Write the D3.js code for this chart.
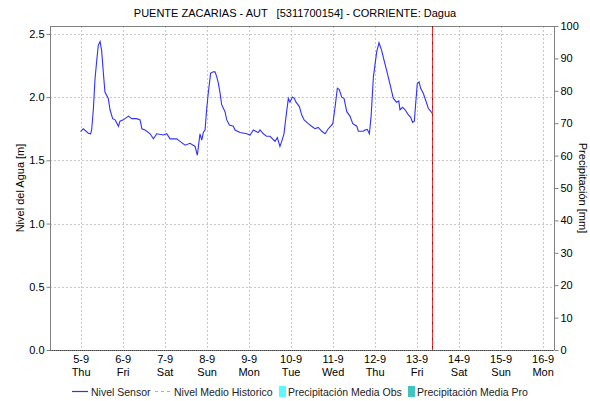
<!DOCTYPE html>
<html><head><meta charset="utf-8">
<script src="https://cdn.jsdelivr.net/npm/d3@7"></script>
<style>
body{margin:0;background:#fff;}
text{font-family:"Liberation Sans",Arial,sans-serif;font-size:11px;fill:#000;}
</style></head>
<body><svg id="c" width="590" height="401"></svg>
<script>
// Data (hours since 2019-09-05 00:00, water level in m)
const hours = [0,1.5,4.4,5.7,6.3,7.3,8.2,9.2,10.1,11.1,12,13,13.9,15.8,16.8,18.3,19.7,21.6,22.5,24.4,27.3,29.2,32,34,35,36.8,39.7,41.6,43.5,47.3,49.2,51.1,54.9,56.8,59.7,62.5,65.4,66.7,68.2,69.2,70.1,71.1,72,73,74.3,75.8,76.8,77.8,78.7,79.7,80.6,82.5,83.5,85,87.3,88.2,91.1,94.9,96.8,98.7,101.5,102.5,104.4,106.3,108.2,111.1,112.4,113.9,114.9,116.2,117.4,118.7,119.6,121,122.1,123.1,125,126.3,127.7,130.1,132,133.9,135.8,137.8,139.7,141.5,142.9,144.1,145.4,146.7,147.8,149.2,150.5,152.1,153.9,155.5,157.8,158.7,161.5,162.5,163.8,165,166,167.3,169.2,170.5,172,173.4,174.9,176.8,178.7,180.6,181.8,182.5,184,185.4,187.3,188.6,189.7,190.7,191.3,192.4,193.4,194.3,195.8,197.4,198.7,200,201];
const nivel = [1.727,1.75,1.714,1.71,1.74,1.91,2.14,2.29,2.41,2.44,2.37,2.19,2.04,1.99,1.90,1.83,1.82,1.77,1.81,1.82,1.85,1.83,1.83,1.82,1.75,1.74,1.71,1.67,1.71,1.70,1.71,1.67,1.67,1.65,1.62,1.635,1.61,1.54,1.71,1.66,1.72,1.74,1.90,2.04,2.19,2.20,2.20,2.16,2.11,2.03,1.94,1.885,1.82,1.78,1.77,1.74,1.72,1.71,1.70,1.74,1.72,1.74,1.71,1.69,1.69,1.65,1.68,1.61,1.65,1.71,1.85,1.99,1.96,2.00,1.99,1.96,1.925,1.86,1.82,1.79,1.77,1.75,1.76,1.73,1.71,1.75,1.77,1.79,1.92,2.07,2.06,2.00,1.99,1.885,1.85,1.79,1.77,1.73,1.73,1.74,1.745,1.71,1.85,2.16,2.36,2.43,2.37,2.29,2.21,2.10,1.99,1.96,1.97,1.90,1.92,1.90,1.86,1.84,1.80,1.81,1.92,2.11,2.12,2.07,2.03,1.965,1.91,1.89,1.87];
const dayLabels = ["5-9","6-9","7-9","8-9","9-9","10-9","11-9","12-9","13-9","14-9","15-9","16-9"];
const dayNames = ["Thu","Fri","Sat","Sun","Mon","Tue","Wed","Thu","Fri","Sat","Sun","Mon"];
const levelTicks = [0,0.5,1.0,1.5,2.0,2.5];
const precipTicks = [0,10,20,30,40,50,60,70,80,90,100];
const nowHour = 201; // 13-9 09:00
const title = "PUENTE ZACARIAS - AUT   [5311700154] - CORRIENTE: Dagua";
const legendItems = [
  {label:"Nivel Sensor", type:"line", color:"#3030ff"},
  {label:"Nivel Medio Historico", type:"dash", color:"#b0b0b0"},
  {label:"Precipitación Media Obs", type:"box", color:"#5cf8ff"},
  {label:"Precipitación Media Pro", type:"box", color:"#40c4c0"}
];

const svg = d3.select("#c");
const L=50,R=554,T=26,B=350;
const x = d3.scaleLinear().domain([-17.5,270.5]).range([L,R]);
const y = d3.scaleLinear().domain([0,2.5625]).range([B,T]);
const y2 = d3.scaleLinear().domain([0,100]).range([B,T]);

// gridlines
const dayHours = dayLabels.map((d,i)=>i*24);
svg.append("g").selectAll("line").data(dayHours).join("line")
  .attr("x1",d=>Math.round(x(d))+0.5).attr("x2",d=>Math.round(x(d))+0.5)
  .attr("y1",T).attr("y2",B).attr("stroke","#c8c8c8").attr("stroke-dasharray","2,2");
svg.append("g").selectAll("line").data(levelTicks.filter(d=>d>0)).join("line")
  .attr("x1",L).attr("x2",R).attr("y1",d=>Math.round(y(d))+0.5).attr("y2",d=>Math.round(y(d))+0.5)
  .attr("stroke","#c8c8c8").attr("stroke-dasharray","2,2");

// frame
svg.append("line").attr("x1",L).attr("x2",R).attr("y1",T+0.5).attr("y2",T+0.5).attr("stroke","#808080");
svg.append("line").attr("x1",L+0.5).attr("x2",L+0.5).attr("y1",T).attr("y2",B).attr("stroke","#808080");
svg.append("line").attr("x1",R+0.5).attr("x2",R+0.5).attr("y1",T).attr("y2",B).attr("stroke","#808080");
svg.append("line").attr("x1",L).attr("x2",R).attr("y1",B+0.5).attr("y2",B+0.5).attr("stroke","#808080");
svg.append("line").attr("x1",L).attr("x2",R).attr("y1",B+0.5).attr("y2",B+0.5).attr("stroke","#404040").attr("stroke-dasharray","1,1");

// left axis
const gl = svg.append("g").attr("transform",`translate(${L+0.5},0)`)
  .call(d3.axisLeft(y).tickValues(levelTicks).tickFormat(d3.format(".1f")).tickSize(4).tickSizeOuter(0));
gl.select(".domain").remove();
gl.selectAll(".tick line").attr("stroke","#808080");
gl.selectAll("text").attr("x",-6).style("font-size","11px").style("font-family","'Liberation Sans',Arial,sans-serif");

// right axis
const gr = svg.append("g").attr("transform",`translate(${R+0.5},0)`)
  .call(d3.axisRight(y2).tickValues(precipTicks).tickSize(4).tickSizeOuter(0));
gr.select(".domain").remove();
gr.selectAll(".tick line").attr("stroke","#808080");
gr.selectAll("text").attr("x",6).style("font-size","11px").style("font-family","'Liberation Sans',Arial,sans-serif");

// x labels
const xl = svg.append("g");
xl.selectAll("text.d").data(dayHours).join("text").attr("class","d")
  .attr("x",d=>x(d)+0.5).attr("y",363).attr("text-anchor","middle").text((d,i)=>dayLabels[i]);
xl.selectAll("text.n").data(dayHours).join("text").attr("class","n")
  .attr("x",d=>x(d)+0.5).attr("y",376).attr("text-anchor","middle").text((d,i)=>dayNames[i]);

// data line
const pts = hours.map((h,i)=>[h,nivel[i]]);
svg.append("path").datum(pts)
  .attr("fill","none").attr("stroke","#3030ff").attr("stroke-width",1.1)
  .attr("d",d3.line().x(d=>x(d[0])).y(d=>y(d[1])));

// now line
const nx = Math.round(x(nowHour))+0.5;
svg.append("line").attr("x1",nx).attr("x2",nx).attr("y1",T).attr("y2",B).attr("stroke","#e83030").attr("stroke-width",1);
svg.append("line").attr("x1",nx).attr("x2",nx).attr("y1",T).attr("y2",B).attr("stroke","#a01010").attr("stroke-width",1).attr("stroke-dasharray","2,6");

// title
svg.append("text").attr("x",295).attr("y",17).attr("text-anchor","middle").attr("xml:space","preserve")
  .style("white-space","pre").text(title);

// axis titles
svg.append("text").attr("transform",`translate(24,${(T+B)/2}) rotate(-90)`).attr("text-anchor","middle").text("Nivel del Agua [m]");
svg.append("text").attr("transform",`translate(579,${(T+B)/2}) rotate(90)`).attr("text-anchor","middle").text("Precipitación [mm]");

// legend
const lg = svg.append("g").attr("transform","translate(0,396)");
const legX = [72,155,279,408];
legendItems.forEach((it,i)=>{
  const gx = legX[i];
  let tx;
  if(it.type==="line"){
    lg.append("line").attr("x1",gx).attr("x2",gx+16).attr("y1",-4.5).attr("y2",-4.5).attr("stroke",it.color).attr("stroke-width",1.2);
    tx = gx+19;
  } else if(it.type==="dash"){
    lg.append("line").attr("x1",gx).attr("x2",gx+16).attr("y1",-4.5).attr("y2",-4.5).attr("stroke",it.color).attr("stroke-dasharray","3,3");
    tx = gx+19;
  } else {
    lg.append("rect").attr("x",gx).attr("y",-10).attr("width",7).attr("height",11).attr("fill",it.color);
    tx = gx+9;
  }
  lg.append("text").attr("x",tx).attr("y",0).style("fill","#222").style("font-size","10.5px").text(it.label);
});
</script></body></html>
